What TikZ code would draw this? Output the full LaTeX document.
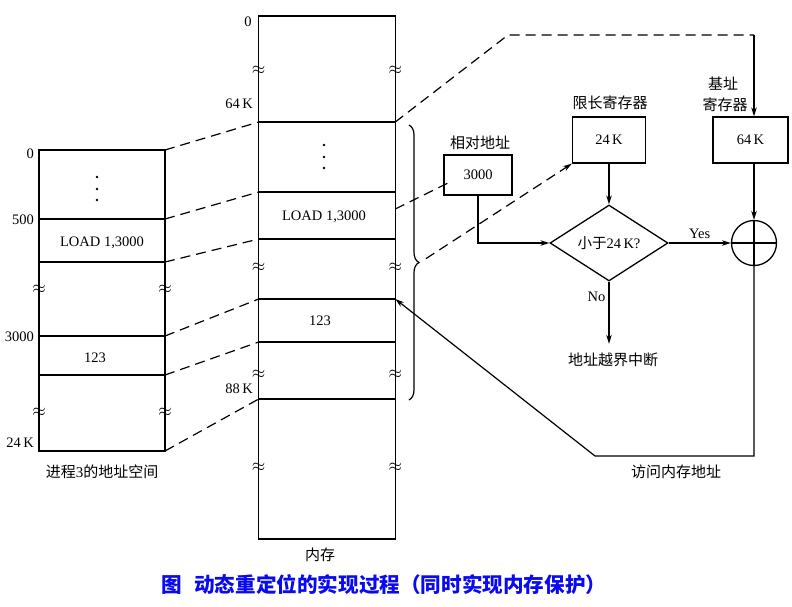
\documentclass[tikz,border=0pt]{standalone}
\usepackage{fontspec}
\setmainfont{Liberation Serif}
\newfontfamily\cjk{Noto Sans CJK SC}
\usetikzlibrary{arrows.meta,shapes.geometric,decorations.pathreplacing,calc}
\definecolor{capblue}{RGB}{10,10,240}
\begin{document}
\begin{tikzpicture}[x=1pt,y=-1pt,
  every node/.style={font=\fontsize{14.5}{16}\selectfont, inner sep=0pt},
  ln/.style={line width=1.3pt},
  dsh/.style={line width=1.2pt, dash pattern=on 10pt off 6pt},
  arr/.style={line width=1.2pt,-{Stealth[length=9pt,width=5.5pt]}},
  reg/.style={draw,line width=1.3pt},
  cn/.style={font=\cjk\fontsize{15}{17}\selectfont},
  wav/.style={font=\fontsize{17}{17}\selectfont}
]
\useasboundingbox (0,0) rectangle (792,606);

% ---------- left box: process 3 address space ----------
\draw[ln] (39,150) rectangle (165,451);
\foreach \yy in {219,262,336,375} \draw[ln] (39,\yy) -- (165,\yy);
\coordinate (La) at (165,150);
\coordinate (Lb) at (165,219);
\coordinate (Lc) at (165,262);
\coordinate (Ld) at (165,336);
\coordinate (Le) at (165,375);
\coordinate (Lf) at (165,451);
\fill (97,177) circle (1.4);
\fill (97,189) circle (1.4);
\fill (97,200) circle (1.4);
\node (lload) at (102,243) {LOAD 1,3000};
\node (l123) at (95,358) {123};
\node[anchor=east] (ll0) at (34,154) {0};
\node[anchor=east] (ll500) at (34,220) {500};
\node[anchor=east] (ll3000) at (34,337) {3000};
\node[anchor=east] (ll24) at (34,443) {24\,K};
\node[wav] (w1) at (39,289) {$\approx$};
\node[wav] (w2) at (165,289) {$\approx$};
\node[wav] (w3) at (39,412) {$\approx$};
\node[wav] (w4) at (165,412) {$\approx$};
\node[cn] (lcap) at (102,472) {进程\rmfamily 3\cjk 的地址空间};

% ---------- middle box: memory ----------
\draw[ln] (258.7,16) rectangle (395.3,539);
\foreach \yy in {122,192,239,299,342,399} \draw[ln] (258.7,\yy) -- (395.3,\yy);
\coordinate (Ma) at (258.7,122);
\coordinate (Mb) at (258.7,192);
\coordinate (Mc) at (258.7,239);
\coordinate (Md) at (258.7,299);
\coordinate (Me) at (258.7,342);
\coordinate (Mf) at (258.7,399);
\coordinate (Mr64) at (395.3,122);
\coordinate (MrL) at (395.3,209);
\coordinate (Mr123) at (395.3,299);
\fill (324,145) circle (1.4);
\fill (324,157) circle (1.4);
\fill (324,168) circle (1.4);
\node (mload) at (324,217) {LOAD 1,3000};
\node (m123) at (320,321) {123};
\node (ml0) at (248,22) {0};
\node[anchor=east] (ml64) at (253,104) {64\,K};
\node[anchor=east] (ml88) at (253,389) {88\,K};
\node[wav] (w5) at (258.7,70) {$\approx$};
\node[wav] (w6) at (395.3,70) {$\approx$};
\node[wav] (w7) at (258.7,267) {$\approx$};
\node[wav] (w8) at (395.3,267) {$\approx$};
\node[wav] (w9) at (258.7,374) {$\approx$};
\node[wav] (w10) at (395.3,374) {$\approx$};
\node[wav] (w11) at (258.7,467) {$\approx$};
\node[wav] (w12) at (395.3,467) {$\approx$};
\node[cn] (mcap) at (320,555) {内存};

% mapping dashed lines
\draw[dsh] (La) -- (Ma);
\draw[dsh] (Lb) -- (Mb);
\draw[dsh] (Lc) -- (Mc);
\draw[dsh] (Ld) -- (Md);
\draw[dsh] (Le) -- (Me);
\draw[dsh] (Lf) -- (Mf);

% brace
\draw[line width=1.2pt, decorate, decoration={brace, amplitude=10pt}] (409,125) -- (409,400);
\coordinate (btip) at (420,262.5);

% ---------- registers and logic ----------
\node[reg, minimum width=68pt, minimum height=40pt] (rel) at (478,175) {3000};
\node[cn] (relcap) at (480,143) {相对地址};
\node[reg, minimum width=73pt, minimum height=46pt] (lim) at (609,140) {24\,K};
\node[cn] (limcap) at (610,103) {限长寄存器};
\node[reg, minimum width=75pt, minimum height=46pt] (base) at (750.5,140) {64\,K};
\node[cn] (basecap1) at (723,84) {基址};
\node[cn] (basecap2) at (725,105) {寄存器};
\node[draw, diamond, line width=1.3pt, minimum width=118pt, minimum height=75pt] (cmp) at (609,243) {{\cjk 小于}24\,K?};
\node[draw, circle, line width=1.3pt, minimum size=45pt] (sum) at (754,243) {};
\draw[ln] (sum.west) -- (sum.east);
\draw[ln] (sum.north) -- (sum.south);
\node[cn] (intr) at (613,360) {地址越界中断};
\node[cn] (acc) at (676,472) {访问内存地址};

\coordinate (relin) at (452,181);
\coordinate (t1) at (508,35);
\coordinate (t2) at (754,35);
\coordinate (c2) at (595,456);

\draw[dsh] (MrL) -- (relin);
\draw[dsh, -{Stealth[length=9pt,width=5.5pt]}, shorten <=7pt] (btip) -- (lim.south west);
\draw[dsh] (Mr64) -- (t1) -- (t2);
\draw[arr] (t2) -- (t2 |- base.north);

\draw[arr] (rel.south) |- (cmp.west);
\draw[arr] (lim.south) -- (cmp.north);
\draw[arr] (cmp.east) -- node[above=4pt] (yes) {Yes} (sum.west);
\draw[arr] (sum |- base.south) -- (sum.north);
\draw[arr, shorten >=9pt] (cmp.south) -- node[left=3pt, pos=0.22] (no) {No} (cmp.south |- intr.north);
\draw[arr] (sum.south) |- (c2) -- (Mr123);

% caption
\node[font=\cjk\bfseries\fontsize{20.6}{22}\selectfont, text=capblue] (cap) at (384,585) {图\hspace{12pt}动态重定位的实现过程（同时实现内存保护）};
\end{tikzpicture}
\end{document}
